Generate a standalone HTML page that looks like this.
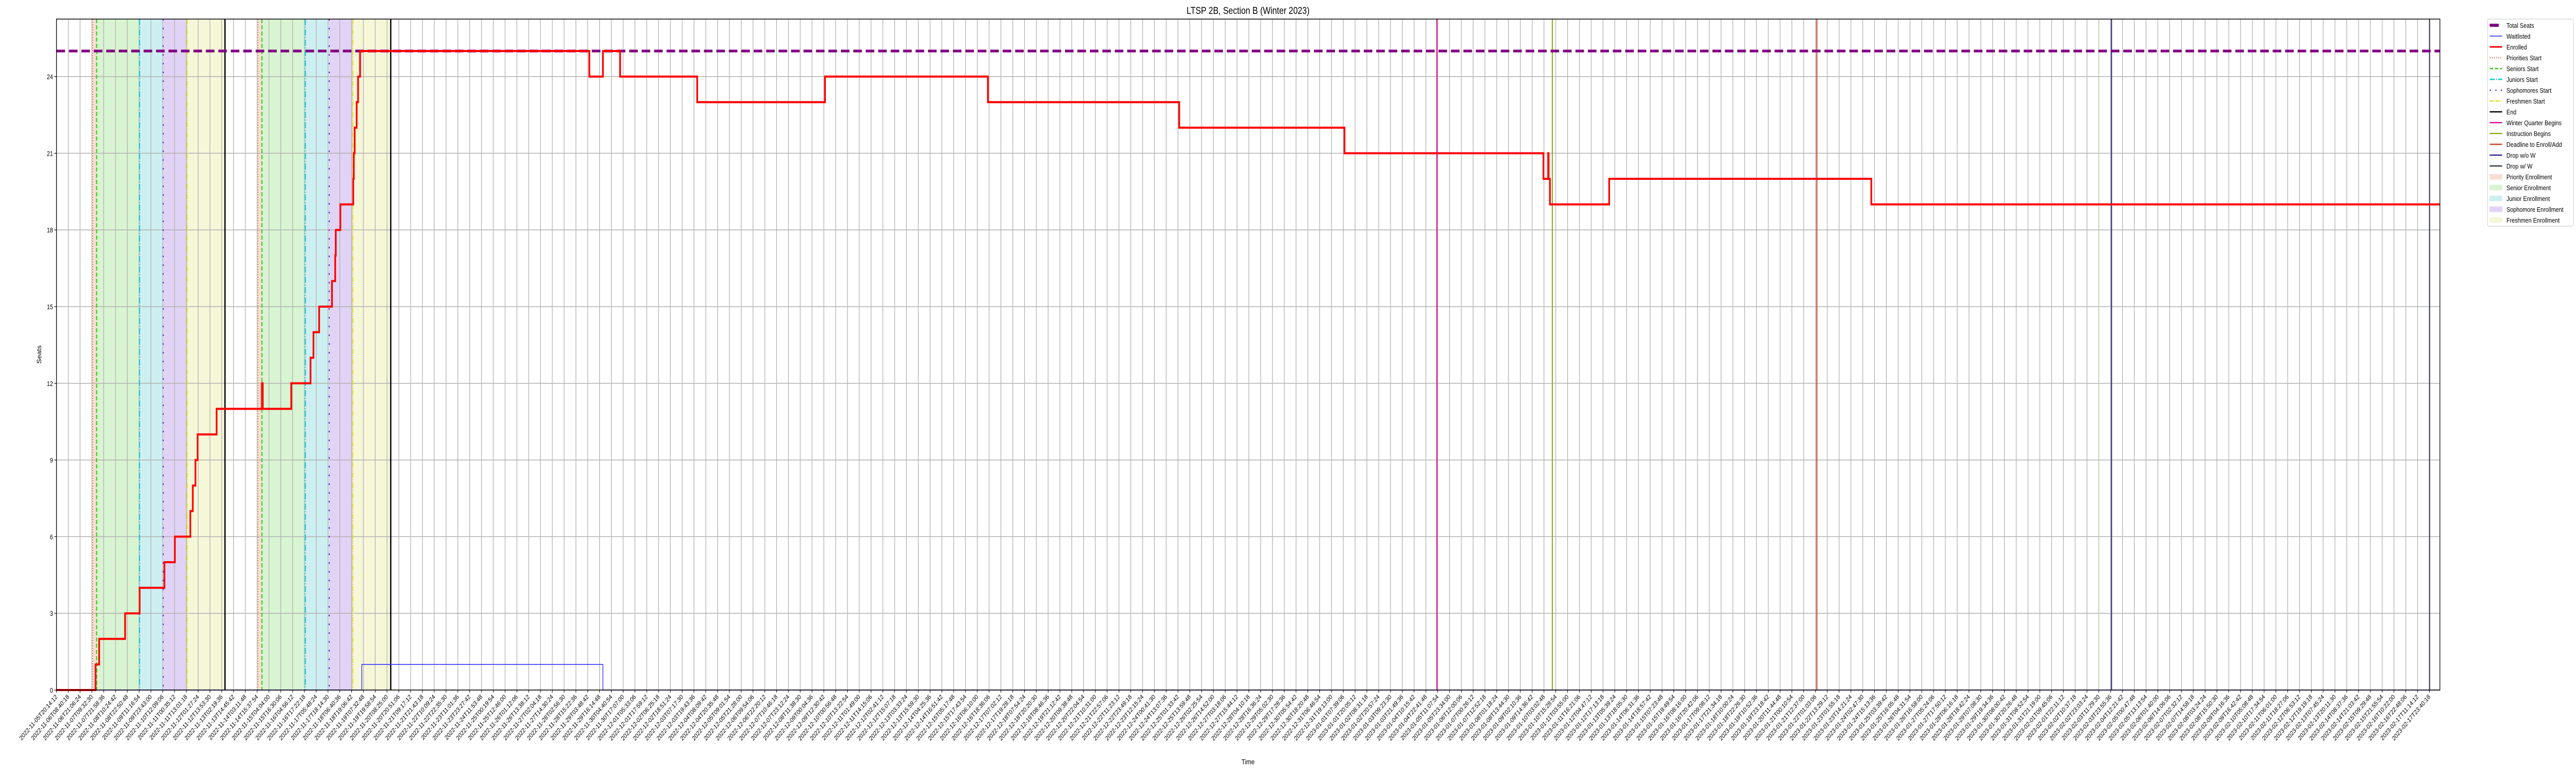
<!DOCTYPE html>
<html><head><meta charset="utf-8">
<style>
html,body{margin:0;padding:0;background:#fff;width:100%;height:100%;overflow:hidden;}
svg{display:block;position:absolute;left:0;top:0;width:100vw;height:100vh;font-family:"Liberation Sans","DejaVu Sans",sans-serif;}
</style></head>
<body>
<svg id="chart" xmlns="http://www.w3.org/2000/svg" viewBox="0 0 6000 1500" preserveAspectRatio="none" overflow="hidden">
<rect x="0" y="0" width="6000" height="1500" fill="#fff"/>
<text x="2907" y="27" font-size="19" text-anchor="middle">LTSP 2B, Section B (Winter 2023)</text>
<text x="2907" y="1483" font-size="14" text-anchor="middle">Time</text>
<text x="0" y="0" font-size="14" text-anchor="middle" transform="translate(96,688) rotate(-90)">Seats</text>
<g id="bands"></g><g id="grid"></g><g id="vlines"></g><g id="series"></g><g id="axes"></g><g id="legend"></g>
</svg>
<script>
// ---- data (hours since 2022-11-05T20:14:12) ----
const totalSeats = 25;
const enrolledT = [0,41.2,45.0,72.3,87.6,113.7,124.7,141.0,143.6,146.4,148.7,168.7,216.4,217.3,247.3,267.6,270.7,276.7,290.2,293.6,294.2,299.0,312.6,313.2,314.1,316.2,317.7,319.8,561.3,575.6,593.7,674.9,809.5,981.1,1182.6,1356.7,1566.3,1571.2,1571.7,1573.1,1635.5,1911.6];
const enrolledV = [0,1,2,3,4,5,6,7,8,9,10,11,12,11,12,13,14,15,16,17,18,19,20,21,22,23,24,25,24,25,24,23,24,23,22,21,20,21,20,19,20,19];
const waitT = [0,321.6,575.6];
const waitV = [0,1,0];
const priorityStarts = [38.1,212.2];
const seniorStarts = [42.3,216.4];
const juniorStarts = [87.5,262.2];
const sophomoreStarts = [112.4,287.3];
const freshmenStarts = [137.6,312.1];
const endTimes = [177.5,352.1];
const winterBegins = [1454.0];
const instructionBegins = [1575.6];
const deadlineAdd = [1854.2];
const dropNoW = [2164.6];
const dropW = [2499.6];
const yTicks = [0,3,6,9,12,15,18,21,24];
const tickCount = 202;
const tickStepH = 12.435;
const startMs = Date.UTC(2022,10,5,20,14,12);

// ---- axes ----
const L=131.5, R=5683, T=37, B=1339;
const xMax=2510.5, yMax=26.25;
const NS='http://www.w3.org/2000/svg';
function xs(h){return L+(h/xMax)*(R-L);}
function ys(v){return B-(v/yMax)*(B-T);}
function mk(tag,attrs,parent){const e=document.createElementNS(NS,tag);for(const k in attrs)e.setAttribute(k,attrs[k]);document.getElementById(parent).appendChild(e);return e;}

function band(a,b,color,name){const e=mk('rect',{x:xs(a),y:T,width:xs(b)-xs(a),height:B-T,fill:color},'bands');

}
for(let i=0;i<2;i++){
 band(priorityStarts[i],seniorStarts[i],'#f7dfd5','priority-enrollment-band');
 band(seniorStarts[i],juniorStarts[i],'#d9f4d2','senior-enrollment-band');
 band(juniorStarts[i],sophomoreStarts[i],'#cdeff2','junior-enrollment-band');
 band(sophomoreStarts[i],freshmenStarts[i],'#e1d3f5','sophomore-enrollment-band');
 band(freshmenStarts[i],endTimes[i],'#f6f7d8','freshmen-enrollment-band');
}
function pad(n){return (n<10?'0':'')+n;}
for(let i=0;i<tickCount;i++){
 const h=i*tickStepH; const x=xs(h);
 const g=mk('line',{x1:x,x2:x,y1:T,y2:B,stroke:'#b0b0b0','stroke-width':1.5},'grid');
 
 
 const tk=mk('line',{x1:x,x2:x,y1:B,y2:B+5,stroke:'#000','stroke-width':1.2},'axes');
 
 
 const d=new Date(startMs+h*3600000);
 const lbl=d.getUTCFullYear()+'-'+pad(d.getUTCMonth()+1)+'-'+pad(d.getUTCDate())+'T'+pad(d.getUTCHours())+':'+pad(d.getUTCMinutes())+':'+pad(d.getUTCSeconds());
 const t=mk('text',{x:0,y:0,'font-size':12.5,'text-anchor':'end',transform:'translate('+(x+3)+','+(B+14)+') rotate(-45)'},'axes');
 t.textContent=lbl;
 
 
}
yTicks.forEach(v=>{
 const y=ys(v);
 const g=mk('line',{x1:L,x2:R,y1:y,y2:y,stroke:'#b0b0b0','stroke-width':1.5},'grid');
 
 
 const tk=mk('line',{x1:L-5,x2:L,y1:y,y2:y,stroke:'#000','stroke-width':1.2},'axes');
 
 
 const t=mk('text',{x:L-8,y:y+5,'font-size':13,'text-anchor':'end'},'axes');
 t.textContent=String(v);
 
 
});
function vline(h,color,w,dash,name){const a={x1:xs(h),x2:xs(h),y1:T,y2:B,stroke:color,'stroke-width':w};if(dash)a['stroke-dasharray']=dash;const e=mk('line',a,'vlines');

}
priorityStarts.forEach(h=>vline(h,'#ee7744',2,'2 3','priorities-start-line'));
seniorStarts.forEach(h=>vline(h,'#33cc11',2.5,'8 4','seniors-start-line'));
juniorStarts.forEach(h=>vline(h,'#11c8d0',2.5,'12 3 2 3','juniors-start-line'));
sophomoreStarts.forEach(h=>vline(h,'#6a22dd',2.5,'3 14','sophomores-start-line'));
freshmenStarts.forEach(h=>vline(h,'#dddd22',2.5,'10 2 2 2 2 2','freshmen-start-line'));
endTimes.forEach(h=>vline(h,'#000',3,null,'end-line'));
winterBegins.forEach(h=>vline(h,'#e0109a',2.5,null,'winter-quarter-begins-line'));
instructionBegins.forEach(h=>vline(h,'#88b010',2.5,null,'instruction-begins-line'));
deadlineAdd.forEach(h=>vline(h,'#cc4422',2.5,null,'deadline-line'));
dropNoW.forEach(h=>vline(h,'#2b2b8a',2.5,null,'drop-without-w-line'));
dropW.forEach(h=>vline(h,'#2e3a5a',2.5,null,'drop-with-w-line'));
function stepPath(ts,vs){let d='M'+xs(ts[0])+','+ys(vs[0]);for(let i=1;i<ts.length;i++){d+=' H'+xs(ts[i])+' V'+ys(vs[i]);}d+=' H'+R;return d;}
const ts=mk('line',{x1:L,x2:R,y1:ys(totalSeats),y2:ys(totalSeats),stroke:'#800080','stroke-width':5.3,'stroke-dasharray':'20 9'},'series');


const wl=mk('path',{d:stepPath(waitT,waitV),fill:'none',stroke:'#2222ff','stroke-width':1.5},'series');


const en=mk('path',{d:stepPath(enrolledT,enrolledV),fill:'none',stroke:'#ff0000','stroke-width':4,'stroke-linejoin':'miter'},'series');


const fr=mk('rect',{x:L,y:T,width:R-L,height:B-T,fill:'none',stroke:'#000','stroke-width':1.5},'axes');


const lg=mk('rect',{x:5794,y:37,width:200,height:402,rx:3,fill:'#fff',stroke:'#d0d0d0','stroke-width':1.2},'legend');


const legendLabels=['Total Seats','Waitlisted','Enrolled','Priorities Start','Seniors Start','Juniors Start','Sophomores Start','Freshmen Start','End','Winter Quarter Begins','Instruction Begins','Deadline to Enroll/Add','Drop w/o W','Drop w/ W','Priority Enrollment','Senior Enrollment','Junior Enrollment','Sophomore Enrollment','Freshmen Enrollment'];
const legendColors=['#800080','#2222ff','#ff0000','#ee7744','#33cc11','#11c8d0','#6a22dd','#dddd22','#000000','#e0109a','#88b010','#cc4422','#2b2b8a','#2e3a5a','#f7dfd5','#d9f4d2','#cdeff2','#e1d3f5','#f6f7d8'];
const legendDash=[null,null,null,'2 3','8 4','12 3 2 3','3 10','8 2 2 2',null,null,null,null,null,null];
legendLabels.forEach((lab,i)=>{
 const y=49+i*21;
 let h;
 if(i===0){h=mk('rect',{x:5799,y:y-3,width:21,height:6,fill:'#800080'},'legend');}
 else if(i>=14){h=mk('rect',{x:5799,y:y-5,width:29,height:10,fill:legendColors[i],stroke:legendColors[i],'stroke-width':0.8},'legend');}
 else {const a={x1:5799,x2:5828,y1:y,y2:y,stroke:legendColors[i],'stroke-width':(i===2?3:(i===1?1.5:2.5))};if(legendDash[i])a['stroke-dasharray']=legendDash[i];h=mk('line',a,'legend');}
 
 
 const t=mk('text',{x:5838,y:y+5,'font-size':13},'legend');
 t.textContent=lab;
 
 
});
</script>
</body></html>
